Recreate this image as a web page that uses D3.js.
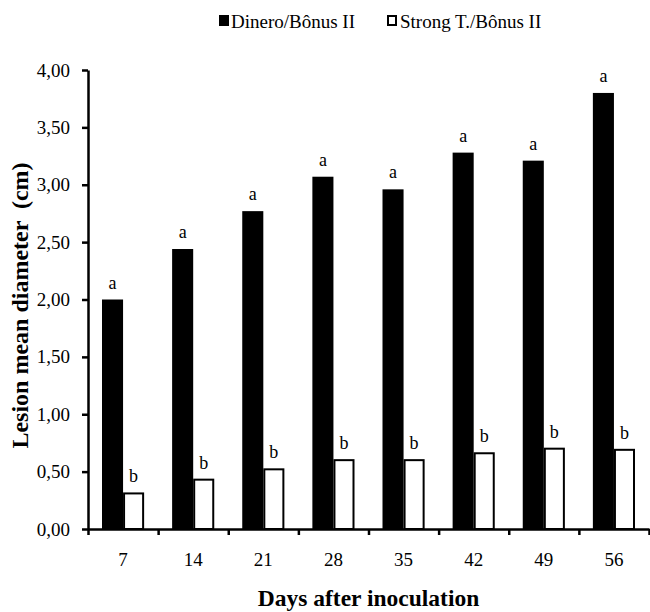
<!DOCTYPE html>
<html>
<head>
<meta charset="utf-8">
<script src="https://cdn.jsdelivr.net/npm/d3@7"></script>
<style>
  body { margin: 0; background: #fff; }
  text { font-family: "Liberation Serif", "Times New Roman", serif; }
</style>
</head>
<body>
<div id="chart"></div>
<script>
// days after inoculation
const days = ["7", "14", "21", "28", "35", "42", "49", "56"];
const series = ["Dinero/Bônus II", "Strong T./Bônus II"];
// lesion mean diameter (cm)
const dinero = [2.00, 2.44, 2.77, 3.07, 2.96, 3.28, 3.21, 3.80];
const strong = [0.31, 0.43, 0.52, 0.60, 0.60, 0.66, 0.70, 0.69];
const lettersDinero = ["a", "a", "a", "a", "a", "a", "a", "a"];
const lettersStrong = ["b", "b", "b", "b", "b", "b", "b", "b"];
const yTicks = [0, 0.5, 1, 1.5, 2, 2.5, 3, 3.5, 4];

const width = 650, height = 612;
const mLeft = 88, mRight = 649, mTop = 70, mBottom = 529;

const svg = d3.select("#chart").append("svg")
    .attr("width", width)
    .attr("height", height);

const x0 = d3.scaleBand().domain(days).range([mLeft, mRight]);
const x1 = d3.scaleBand().domain(series).range([14, x0.bandwidth() - 14]);
const y = d3.scaleLinear().domain([0, 4]).range([mBottom, mTop]);

const rows = days.map((d, i) => ({
  day: d,
  vals: [
    { s: series[0], v: dinero[i], l: lettersDinero[i] },
    { s: series[1], v: strong[i], l: lettersStrong[i] }
  ]
}));

// bars
const g = svg.append("g")
  .selectAll("g")
  .data(rows)
  .join("g")
    .attr("transform", d => `translate(${x0(d.day)},0)`);

g.selectAll("rect")
  .data(d => d.vals)
  .join("rect")
    .attr("x", d => d.s === series[0] ? x1(d.s) : x1(d.s) + 1)
    .attr("y", d => y(d.v))
    .attr("width", d => d.s === series[0] ? x1.bandwidth() : x1.bandwidth() - 2)
    .attr("height", d => y(0) - y(d.v))
    .attr("fill", d => d.s === series[0] ? "#000" : "#fff")
    .attr("stroke", "#000")
    .attr("stroke-width", d => d.s === series[0] ? 0 : 2);

g.selectAll("text")
  .data(d => d.vals)
  .join("text")
    .attr("x", d => x1(d.s) + x1.bandwidth() / 2)
    .attr("y", d => y(d.v) - 11)
    .attr("text-anchor", "middle")
    .attr("font-size", 18)
    .text(d => d.l);

// y axis
const yAxis = svg.append("g")
  .attr("transform", `translate(${mLeft},0)`)
  .call(d3.axisLeft(y)
    .tickValues(yTicks)
    .tickSize(6)
    .tickSizeOuter(0)
    .tickPadding(12)
    .tickFormat(d => d.toFixed(2).replace(".", ",")));
yAxis.selectAll("text").attr("font-size", 19).attr("font-family", "Liberation Serif").attr("fill", "#000");
yAxis.selectAll("line, path").attr("stroke", "#000").attr("stroke-width", 2.5);

// x axis: tick marks at band edges, labels at band centres
const xEdge = d3.scaleLinear().domain([0, days.length]).range([mLeft, mRight]);
const xTickAxis = svg.append("g")
  .attr("transform", `translate(0,${mBottom})`)
  .call(d3.axisBottom(xEdge).ticks(days.length).tickSize(6).tickSizeOuter(0).tickFormat(""));
xTickAxis.selectAll("line, path").attr("stroke", "#000").attr("stroke-width", 2.5);

const xLab = svg.append("g")
  .attr("transform", `translate(0,${mBottom})`)
  .call(d3.axisBottom(x0).tickSize(0).tickPadding(24));
xLab.select(".domain").remove();
xLab.selectAll("text").attr("font-size", 19).attr("font-family", "Liberation Serif").attr("fill", "#000");

// axis titles
svg.append("text")
  .attr("x", (mLeft + mRight) / 2)
  .attr("y", 606)
  .attr("text-anchor", "middle")
  .attr("font-size", 23.5)
  .attr("font-weight", "bold")
  .text("Days after inoculation");

svg.append("text")
  .attr("transform", `translate(28,${(mTop + mBottom) / 2 + 6}) rotate(-90)`)
  .attr("text-anchor", "middle")
  .attr("font-size", 24)
  .attr("font-weight", "bold")
  .style("white-space", "pre")
  .text("Lesion mean diameter  (cm)");

// legend
const legX = [219, 387];
const leg = svg.append("g")
  .selectAll("g")
  .data(series)
  .join("g")
    .attr("transform", (d, i) => `translate(${legX[i]},15)`);
leg.append("rect")
  .attr("x", (d, i) => i ? 1 : 0)
  .attr("y", (d, i) => i ? 1 : 0)
  .attr("width", (d, i) => i ? 8 : 10)
  .attr("height", (d, i) => i ? 9 : 11)
  .attr("fill", (d, i) => i ? "#fff" : "#000")
  .attr("stroke", "#000")
  .attr("stroke-width", (d, i) => i ? 2 : 0);
leg.append("text")
  .attr("x", (d, i) => i ? 13 : 12)
  .attr("y", 13)
  .attr("font-size", 19)
  .text(d => d);
</script>
</body>
</html>
